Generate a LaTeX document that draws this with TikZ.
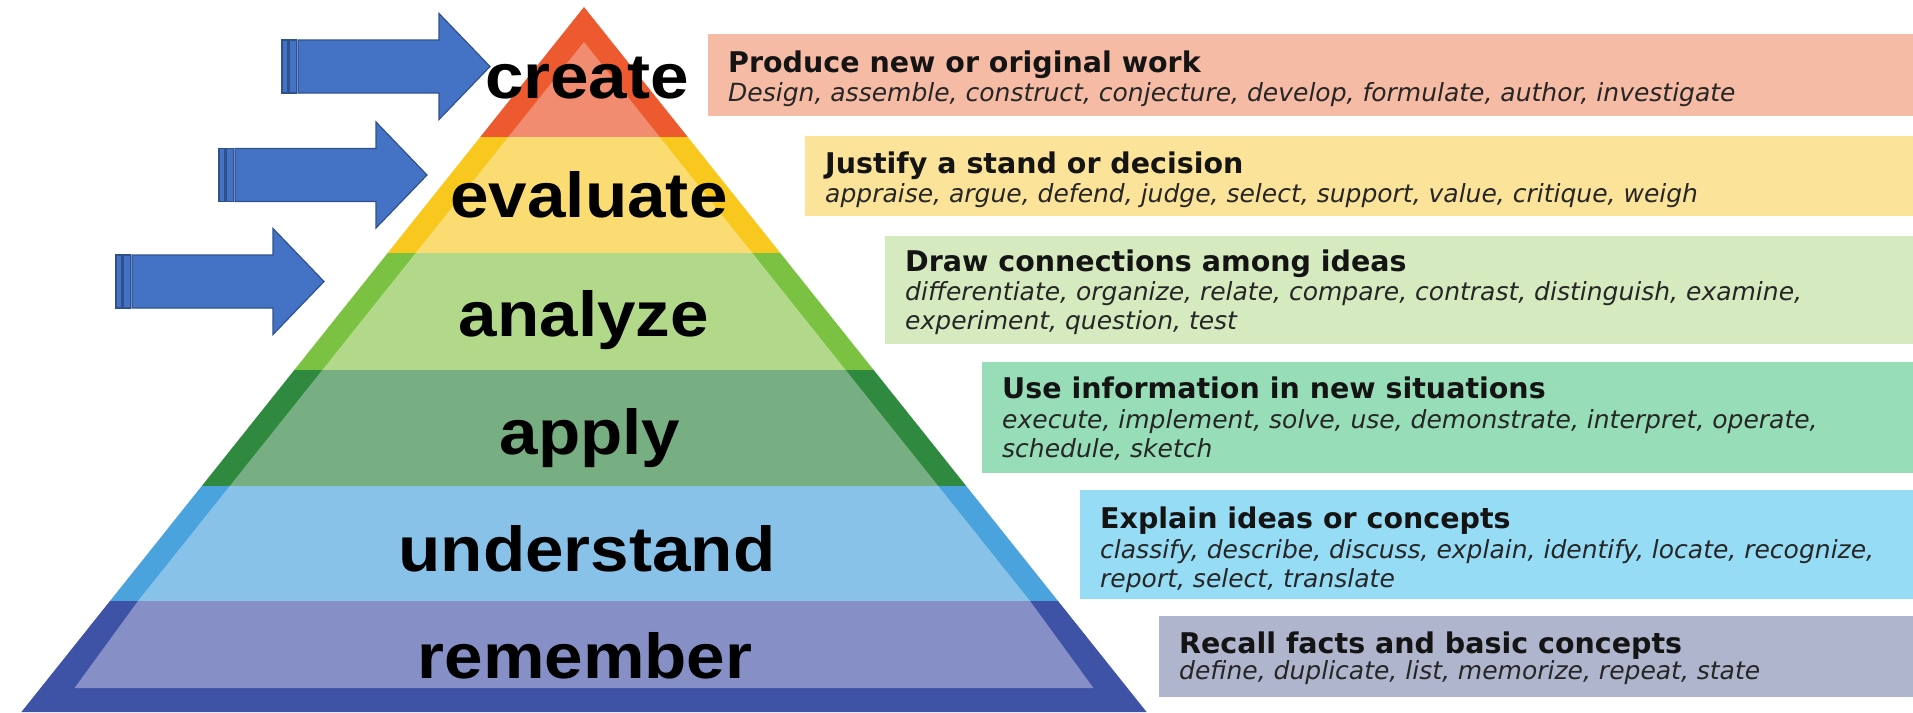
\documentclass[tikz,border=0pt]{standalone}
\usepackage{fontspec}
\setmainfont{DejaVu Sans}
\newfontfamily\lvlfont{Liberation Sans}[FakeStretch=1.09]

\definecolor{credk}{HTML}{EE5A2F}
\definecolor{crelt}{HTML}{F18C70}
\definecolor{crebox}{HTML}{F5BBA5}
\definecolor{evadk}{HTML}{F8C81E}
\definecolor{evalt}{HTML}{FBDC72}
\definecolor{evabox}{HTML}{FCE39A}
\definecolor{anadk}{HTML}{7CC242}
\definecolor{analt}{HTML}{B2D889}
\definecolor{anabox}{HTML}{D6EAC0}
\definecolor{appdk}{HTML}{2F8A3F}
\definecolor{applt}{HTML}{77AE82}
\definecolor{appbox}{HTML}{97DDB8}
\definecolor{unddk}{HTML}{4AA3DC}
\definecolor{undlt}{HTML}{88C2E8}
\definecolor{undbox}{HTML}{97DCF5}
\definecolor{remdk}{HTML}{3E52A6}
\definecolor{remlt}{HTML}{8690C6}
\definecolor{rembox}{HTML}{AEB5CC}
\definecolor{arrfill}{HTML}{4472C4}
\definecolor{arredge}{HTML}{2F528F}

\begin{document}
\begin{tikzpicture}[x=1pt, y=-1pt,
    lvl/.style={anchor=base, inner sep=0pt, font=\lvlfont\bfseries\fontsize{63.5}{64}\selectfont},
    ttl/.style={anchor=base west, inner sep=0pt, text=black!92, font=\bfseries\fontsize{28.5}{34}\selectfont},
    verbs/.style={anchor=base west, inner sep=0pt, text=black!85, font=\itshape\fontsize{25}{29}\selectfont},
    arr/.style={fill=arrfill, draw=arredge, line width=1.2pt, line join=miter}]
    \useasboundingbox (0,0) rectangle (1913,712);
    \fill[white] (0,0) rectangle (1913,712);

    \foreach \bx/\by/\bh/\bc in {708/34/82/crebox, 805/136/80/evabox, 885/236/108/anabox,
                                 982/362/111/appbox, 1080/490/109/undbox, 1159/616/81/rembox}
        \fill[\bc] (\bx,\by) rectangle (1913,\by+\bh);

    \fill[credk] (584,7) -- ({584+0.798*130},137) -- ({584-0.798*130},137) -- cycle;
    \fill[crelt] (584,42) -- ({584+0.798*130-28},137) -- ({584-0.798*130+28},137) -- cycle;
    \foreach \t/\b/\dk/\lt in {137/253/evadk/evalt, 253/370/anadk/analt, 370/486/appdk/applt, 486/601/unddk/undlt}
    {
        \fill[\dk] ({584-0.798*(\t-7)},\t) -- ({584+0.798*(\t-7)},\t)
            -- ({584+0.798*(\b-7)},\b) -- ({584-0.798*(\b-7)},\b) -- cycle;
        \fill[\lt] ({584-0.798*(\t-7)+28},\t) -- ({584+0.798*(\t-7)-28},\t)
            -- ({584+0.798*(\b-7)-28},\b) -- ({584-0.798*(\b-7)+28},\b) -- cycle;
    }
    \fill[remdk] ({584-0.798*594},601) -- ({584+0.798*594},601)
        -- ({584+0.798*705},712) -- ({584-0.798*705},712) -- cycle;
    \fill[remlt] ({584-0.798*594+28},601) -- ({584+0.798*594-28},601)
        -- ({584+0.798*681-34},688) -- ({584-0.798*681+34},688) -- cycle;

    \node[lvl] (create) at (587,98) {create};
    \node[lvl] (evaluate) at (589,217) {evaluate};
    \node[lvl] (analyze) at (584,336) {analyze};
    \node[lvl] (apply) at (590,454) {apply};
    \node[lvl] (understand) at (587,571) {understand};
    \node[lvl] (remember) at (585,678) {remember};

    \node[ttl] (cret) at (728,72) {Produce new or original work};
    \node[verbs] (crev) at (728,101) {Design, assemble, construct, conjecture, develop, formulate, author, investigate};
    \node[ttl] (evat) at (825,173) {Justify a stand or decision};
    \node[verbs] (evav) at (825,202) {appraise, argue, defend, judge, select, support, value, critique, weigh};
    \node[ttl] (anat) at (905,271) {Draw connections among ideas};
    \node[verbs] (anav1) at (905,300) {differentiate, organize, relate, compare, contrast, distinguish, examine,};
    \node[verbs] (anav2) at (905,329) {experiment, question, test};
    \node[ttl] (appt) at (1002,398) {Use information in new situations};
    \node[verbs] (appv1) at (1002,428) {execute, implement, solve, use, demonstrate, interpret, operate,};
    \node[verbs] (appv2) at (1002,457) {schedule, sketch};
    \node[ttl] (undt) at (1100,528) {Explain ideas or concepts};
    \node[verbs] (undv1) at (1100,558) {classify, describe, discuss, explain, identify, locate, recognize,};
    \node[verbs] (undv2) at (1100,587) {report, select, translate};
    \node[ttl] (remt) at (1179,653) {Recall facts and basic concepts};
    \node[verbs] (remv) at (1179,679) {define, duplicate, list, memorize, repeat, state};

    \foreach \ax/\ay in {282/66.5, 219/175, 116/281.5}
    {
        \filldraw[arr] (\ax,\ay-26.5) rectangle (\ax+5.5,\ay+26.5);
        \filldraw[arr] (\ax+7,\ay-26.5) rectangle (\ax+14.5,\ay+26.5);
        \filldraw[arr] (\ax+16,\ay-26.5) -- (\ax+157,\ay-26.5) -- (\ax+157,\ay-53)
            -- (\ax+208,\ay) -- (\ax+157,\ay+53) -- (\ax+157,\ay+26.5) -- (\ax+16,\ay+26.5) -- cycle;
    }
\end{tikzpicture}
\end{document}
